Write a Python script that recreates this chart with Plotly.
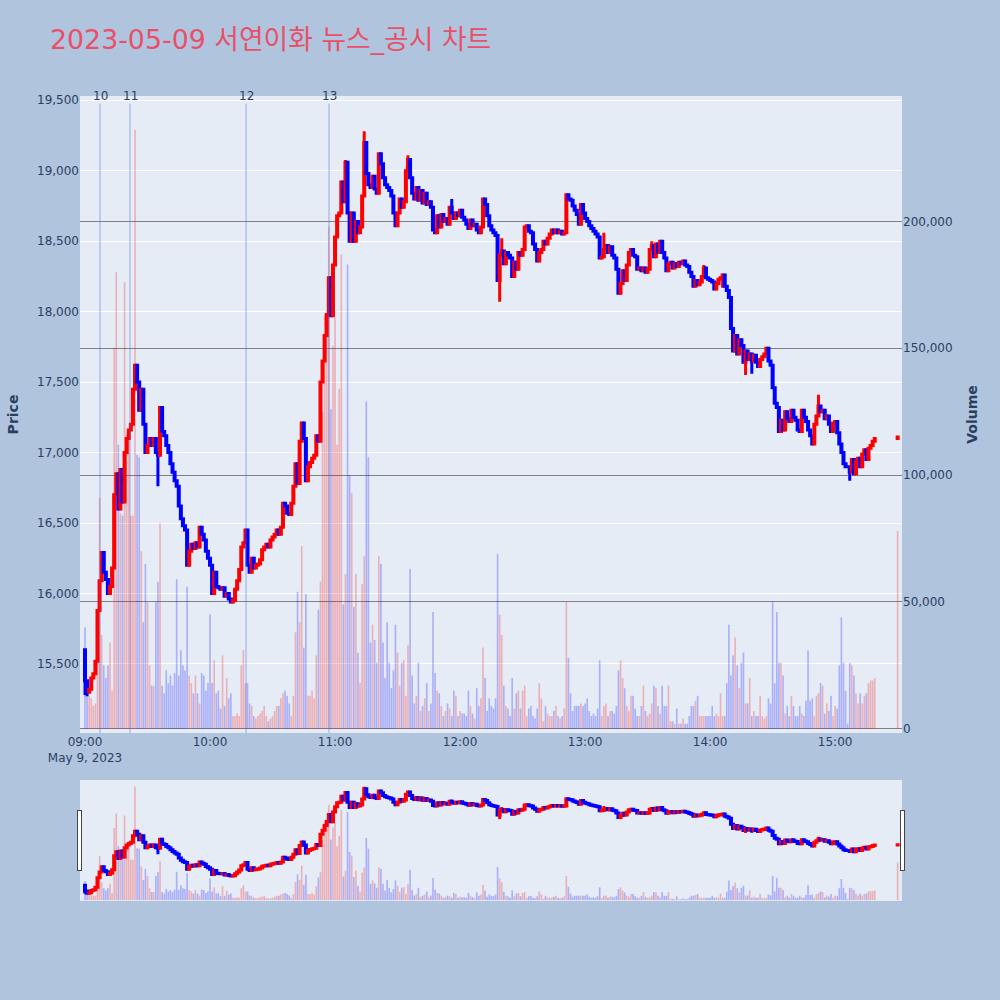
import plotly.graph_objects as go
import pandas as pd

TITLE = "2023-05-09 서연이화 뉴스_공시 차트"
session_start = "2023-05-09 09:00"
first_open = 15600

close_prices = [
    15380, 15300, 15320, 15400, 15430, 15520, 15880, 16090, 16290, 16150,
    16100, 16000, 16050, 16180, 16700, 16850, 16600, 16880, 16650, 17000,
    17100, 17160, 17200, 17450, 17620, 17500, 17300, 17450, 17200, 17000,
    17050, 17100, 17050, 17100, 17000, 16980, 17320, 17150, 17120, 17050,
    17000, 16920, 16860, 16800, 16760, 16620, 16530, 16480, 16450, 16200,
    16300, 16350, 16320, 16360, 16330, 16470, 16420, 16380, 16300, 16250,
    16200, 16000, 16150, 16050, 16040, 16030, 16040, 15980, 16000, 15960,
    15940, 15950, 16030, 16090, 16170, 16330, 16360, 16450, 16200, 16150,
    16250, 16180, 16200, 16210, 16240, 16310, 16330, 16350, 16330, 16380,
    16400, 16420, 16450, 16420, 16470, 16640, 16620, 16570, 16560, 16640,
    16760, 16920, 16780, 17080, 17210, 17100, 16800, 16900, 16930, 16960,
    16980, 17120, 17080, 17500, 17650, 17830, 17980, 18240, 17970, 18330,
    18530, 18680, 18700, 18920, 18780, 19060, 18700, 18500, 18700, 18500,
    18640, 18560, 18600, 18820, 19200, 18980, 18900, 18880, 18960, 18870,
    18840, 19120, 19050, 18950, 18900, 18880, 18860, 18820, 18700, 18610,
    18700, 18800, 18740, 18780, 19000, 19080, 18950, 18840, 18800, 18880,
    18790, 18860, 18770, 18840, 18760, 18780, 18740, 18580, 18560, 18680,
    18600, 18690, 18640, 18660, 18620, 18740, 18700, 18660, 18700, 18680,
    18720, 18670, 18650, 18620, 18590, 18650, 18610, 18620, 18580, 18560,
    18600, 18800, 18760, 18680, 18610, 18580, 18560, 18540, 18220, 18400,
    18430, 18340, 18420, 18400, 18380, 18250, 18350, 18300, 18420, 18400,
    18440, 18600, 18610, 18570, 18560, 18480, 18440, 18360, 18420, 18440,
    18500, 18480, 18520, 18550, 18580, 18560, 18580, 18560, 18570, 18550,
    18560, 18830, 18800, 18790, 18750, 18720, 18690, 18620, 18760, 18700,
    18660, 18640, 18610, 18590, 18570, 18550, 18530, 18380, 18390, 18440,
    18470, 18420, 18460, 18400, 18380, 18300, 18130, 18200, 18290, 18220,
    18330, 18420, 18440, 18400, 18390, 18300, 18310, 18290, 18310, 18280,
    18300, 18440, 18470, 18390, 18480, 18420, 18500, 18420, 18380, 18290,
    18340, 18350, 18310, 18340, 18320, 18350, 18340, 18360, 18330, 18320,
    18280, 18250, 18180, 18220, 18190, 18210, 18250, 18310, 18240, 18230,
    18220, 18210, 18160, 18200, 18230, 18240, 18260, 18180, 18150, 18100,
    17880, 17720, 17830, 17700, 17800, 17760, 17640, 17720, 17660, 17700,
    17650, 17690, 17640, 17610, 17660, 17680, 17700, 17740, 17650, 17620,
    17460, 17350, 17320, 17150, 17230, 17160, 17290, 17240, 17220, 17300,
    17250, 17230, 17160, 17150, 17300, 17250, 17220, 17160, 17120, 17060,
    17200, 17260, 17330, 17290, 17300, 17240, 17260, 17200, 17150, 17210,
    17220, 17140, 17060, 17000, 16920, 16900, 16900, 16860, 16950, 16850,
    16940, 16960, 16900, 16990, 17020, 16950, 17030, 17050, 17080, 17100,
]

volume_k = [
    40, 13, 13, 12, 9, 10, 44, 91, 37, 25,
    20, 25, 34, 15, 150, 180, 112, 85, 84, 176,
    116, 118, 84, 84, 236, 108, 107, 70, 42, 65,
    50, 25, 17, 17, 50, 58, 81, 17, 14, 23,
    18, 21, 17, 22, 59, 21, 31, 25, 23, 56,
    21, 18, 14, 21, 14, 10, 22, 21, 15, 18,
    45, 18, 27, 14, 15, 8, 29, 9, 20, 12,
    14, 5, 5, 6, 5, 25, 31, 18, 18, 10,
    9, 5, 4, 5, 6, 7, 9, 5, 3, 4,
    5, 7, 9, 9, 12, 14, 15, 13,
    10, 5, 13, 38, 54, 42, 72, 32, 53, 13,
    13, 15, 12, 29, 47, 58, 125, 163, 162, 198,
    126, 151, 162, 112, 134, 187, 49, 61, 183, 100,
    93, 48, 61, 30, 18, 57, 68, 129, 107, 34,
    41, 35, 26, 68, 65, 34, 20, 42, 26, 16,
    23, 41, 30, 17, 26, 27, 13, 33, 63, 21,
    10, 13, 26, 7, 9, 12, 18, 7, 10, 46,
    22, 15, 14, 9, 5, 7, 10, 8, 5, 15,
    13, 5, 7, 6, 6, 5, 15, 9, 6, 4,
    16, 9, 12, 32, 20, 7, 12, 9, 8,
    12, 69, 45, 37, 17, 9, 8, 5, 20, 8,
    14, 15, 8, 15, 17, 5, 8, 9, 5, 4,
    8, 18, 12, 3, 9, 6, 5, 5, 7, 9,
    5, 4, 5, 8, 50, 28, 14, 7, 9, 9,
    9, 10, 9, 10, 12, 7, 5, 6, 5, 8,
    27, 5, 9, 10, 5, 7, 7, 6, 9, 23,
    27, 20, 16, 9, 7, 13, 13, 8, 5, 5,
    9, 17, 7, 5, 6, 10, 17, 16, 9, 6,
    17, 9, 9, 17, 3, 3, 2, 8, 2, 2,
    4, 2, 2, 5, 9, 9, 11,
    13, 5, 5, 5, 5, 5, 5, 9, 5, 6,
    5, 14, 5, 5, 18, 41, 21, 29, 36, 25,
    16, 26, 30, 10, 10, 20, 5, 7, 5, 5,
    13, 5, 4, 5, 12, 10, 50, 18, 46, 26,
    26, 21, 6, 9, 5, 13, 9, 5, 5, 9,
    6, 5, 11, 31, 11, 12, 5, 13, 14, 18,
    17, 6, 10, 7, 13, 5, 9, 8, 25, 44,
    26, 15, 2, 26, 25, 21, 14, 10, 14, 10,
    13, 14, 18, 19, 19, 20,
]

wick_high = {125: 19075, 134: 19280, 155: 19110, 176: 18800, 200: 18520,
             249: 18560, 272: 18500, 297: 18330, 352: 17410}
wick_low = {0: 15280, 1: 15270, 35: 16760, 199: 18070, 306: 18170,
            317: 17550, 320: 17560, 367: 16800}

auction_time = "2023-05-09 15:30"
auction_open, auction_close, auction_volume_k = 17100, 17110, 78

news_times = ["2023-05-09 09:07:12", "2023-05-09 09:21:36",
              "2023-05-09 10:17:18", "2023-05-09 10:57:06"]
news_labels = ["10", "11", "12", "13"]

# ---- build OHLC ----
times = list(pd.date_range(session_start, periods=len(close_prices), freq="min"))
opens = [first_open] + close_prices[:-1]
highs = [wick_high.get(i, max(o, c)) for i, (o, c) in enumerate(zip(opens, close_prices))]
lows = [wick_low.get(i, min(o, c)) for i, (o, c) in enumerate(zip(opens, close_prices))]

x_all = times + [pd.Timestamp(auction_time)]
o_all = opens + [auction_open]
c_all = close_prices + [auction_close]
h_all = highs + [max(auction_open, auction_close)]
l_all = lows + [min(auction_open, auction_close)]
v_all = [v * 1000 for v in volume_k[:len(close_prices)]] + [auction_volume_k * 1000]

bar_colors = ["rgba(255,0,0,0.25)" if c > o else "rgba(0,0,255,0.25)"
              for o, c in zip(o_all, c_all)]

fig = go.Figure()
fig.add_trace(go.Candlestick(
    x=x_all, open=o_all, high=h_all, low=l_all, close=c_all,
    increasing=dict(line=dict(color="red", width=3), fillcolor="red"),
    decreasing=dict(line=dict(color="blue", width=3), fillcolor="blue"),
    name="Price", yaxis="y", showlegend=False,
))
fig.add_trace(go.Bar(
    x=x_all, y=v_all, marker=dict(color=bar_colors, line=dict(width=0)),
    name="Volume", yaxis="y2", showlegend=False,
))

for t, lab in zip(news_times, news_labels):
    fig.add_shape(type="line", x0=t, x1=t, xref="x", y0=0, y1=0.988, yref="paper",
                  line=dict(color="rgba(65,105,225,0.5)", width=1), layer="above")
    fig.add_annotation(x=t, y=1.0, xref="x", yref="paper", text=lab, showarrow=False,
                       yanchor="middle", font=dict(size=12, color="#2a3f5f"))

fig.update_layout(
    width=1000, height=1000,
    paper_bgcolor="#B0C4DE",
    plot_bgcolor="#E5ECF6",
    font=dict(family="DejaVu Sans, Verdana, sans-serif", size=12, color="#2a3f5f"),
    title=dict(text=TITLE, x=0.05, xanchor="left", y=0.96, yanchor="middle",
               font=dict(size=26.8, color="#E8506A",
                         family="DejaVu Sans, Noto Sans CJK KR, sans-serif")),
    margin=dict(l=80, r=98, t=96, b=100),
    showlegend=False,
    bargap=0.2,
    xaxis=dict(
        type="date",
        range=["2023-05-09 08:57:36", "2023-05-09 15:32:05"],
        showgrid=False,
        rangeslider=dict(visible=True, thickness=0.15, bgcolor="#E5ECF6",
                         range=["2023-05-09 08:59:30", "2023-05-09 15:30:30"]),
    ),
    yaxis=dict(
        title=dict(text="Price", font=dict(size=14, weight="bold")),
        range=[15010, 19530], tickformat=",", gridcolor="white", zeroline=False,
    ),
    yaxis2=dict(
        title=dict(text="Volume", font=dict(size=14, weight="bold")),
        overlaying="y", side="right", range=[-1667, 249444], tickformat=",",
        gridcolor="gray", zeroline=False, showgrid=True,
    ),
)

fig.write_html("out.html", config={"displayModeBar": False},
               post_script="document.body.style.margin='0';")
